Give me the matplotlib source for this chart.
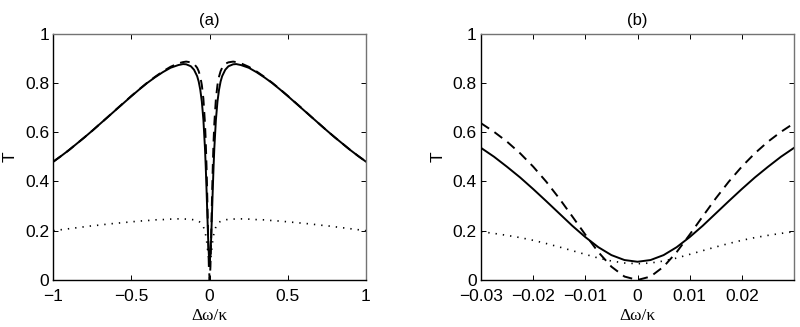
import matplotlib
matplotlib.use("Agg")
import matplotlib.pyplot as plt

# ---------------- data: panel (a) ----------------
xa = [-1.0, -0.95, -0.9, -0.85, -0.8, -0.75, -0.7, -0.65, -0.6, -0.55, -0.5, -0.45, -0.4, -0.35,
      -0.3, -0.25, -0.2, -0.17, -0.15, -0.12, -0.1, -0.08, -0.07, -0.06, -0.05, -0.04, -0.03,
      -0.025, -0.02, -0.015, -0.01, -0.005, 0.0,
      0.005, 0.01, 0.015, 0.02, 0.025, 0.03, 0.04, 0.05, 0.06, 0.07, 0.08, 0.1, 0.12, 0.15,
      0.17, 0.2, 0.25, 0.3, 0.35, 0.4, 0.45, 0.5, 0.55, 0.6, 0.65, 0.7, 0.75, 0.8, 0.85, 0.9,
      0.95, 1.0]

solid_a = [0.480, 0.503, 0.527, 0.553, 0.579, 0.606, 0.634, 0.662, 0.690, 0.718, 0.746, 0.773,
           0.799, 0.822, 0.843, 0.861, 0.872, 0.876, 0.875, 0.867, 0.853, 0.827, 0.805, 0.772,
           0.724, 0.650, 0.536, 0.459, 0.369, 0.270, 0.174, 0.101, 0.074,
           0.101, 0.174, 0.270, 0.369, 0.459, 0.536, 0.650, 0.724, 0.772, 0.805, 0.827, 0.853,
           0.867, 0.875, 0.876, 0.872, 0.861, 0.843, 0.822, 0.799, 0.773, 0.746, 0.718, 0.690,
           0.662, 0.634, 0.606, 0.579, 0.553, 0.527, 0.503, 0.480]

dashed_a = [0.480, 0.503, 0.527, 0.553, 0.579, 0.606, 0.634, 0.662, 0.691, 0.719, 0.747, 0.774,
            0.800, 0.824, 0.846, 0.865, 0.879, 0.884, 0.886, 0.883, 0.877, 0.861, 0.847, 0.825,
            0.791, 0.735, 0.636, 0.561, 0.460, 0.331, 0.184, 0.054, 0.000,
            0.054, 0.184, 0.331, 0.460, 0.561, 0.636, 0.735, 0.791, 0.825, 0.847, 0.861, 0.877,
            0.883, 0.886, 0.884, 0.879, 0.865, 0.846, 0.824, 0.800, 0.774, 0.747, 0.719, 0.691,
            0.662, 0.634, 0.606, 0.579, 0.553, 0.527, 0.503, 0.480]

dotted_a = [0.200, 0.204, 0.208, 0.212, 0.216, 0.220, 0.223, 0.227, 0.230, 0.233, 0.236, 0.239,
            0.241, 0.244, 0.245, 0.247, 0.248, 0.248, 0.247, 0.246, 0.244, 0.241, 0.238, 0.234,
            0.227, 0.216, 0.196, 0.181, 0.161, 0.134, 0.104, 0.077, 0.066,
            0.077, 0.104, 0.134, 0.161, 0.181, 0.196, 0.216, 0.227, 0.234, 0.238, 0.241, 0.244,
            0.246, 0.247, 0.248, 0.248, 0.247, 0.245, 0.244, 0.241, 0.239, 0.236, 0.233, 0.230,
            0.227, 0.223, 0.220, 0.216, 0.212, 0.208, 0.204, 0.200]

# ---------------- data: panel (b) ----------------
xb = [-0.03, -0.0275, -0.025, -0.0225, -0.02, -0.0175, -0.015, -0.0125, -0.01, -0.0075,
      -0.005, -0.0025, 0.0, 0.0025, 0.005, 0.0075, 0.01, 0.0125, 0.015, 0.0175, 0.02,
      0.0225, 0.025, 0.0275, 0.03]

solid_b = [0.536, 0.500, 0.459, 0.416, 0.369, 0.320, 0.270, 0.220, 0.174, 0.133, 0.101, 0.081,
           0.074, 0.081, 0.101, 0.133, 0.174, 0.220, 0.270, 0.320, 0.369, 0.416, 0.459, 0.500,
           0.536]

dashed_b = [0.636, 0.601, 0.561, 0.514, 0.460, 0.399, 0.331, 0.258, 0.184, 0.113, 0.054, 0.014,
            0.000, 0.014, 0.054, 0.113, 0.184, 0.258, 0.331, 0.399, 0.460, 0.514, 0.561, 0.601,
            0.636]

dotted_b = [0.196, 0.189, 0.181, 0.172, 0.161, 0.148, 0.134, 0.119, 0.104, 0.089, 0.077, 0.069,
            0.066, 0.069, 0.077, 0.089, 0.104, 0.119, 0.134, 0.148, 0.161, 0.172, 0.181, 0.189,
            0.196]

xticks_a = [-1, -0.5, 0, 0.5, 1]
xticklabels_a = ["\u22121", "\u22120.5", "0", "0.5", "1"]
xticks_b = [-0.03, -0.02, -0.01, 0, 0.01, 0.02]
xticklabels_b = ["\u22120.03", "\u22120.02", "\u22120.01", "0", "0.01", "0.02"]
yticks = [0, 0.2, 0.4, 0.6, 0.8, 1]
yticklabels = ["0", "0.2", "0.4", "0.6", "0.8", "1"]
titles = ["(a)", "(b)"]
xlabel = "\u0394\u03c9/\u03ba"
ylabel = "T"

plt.rcParams['font.family'] = ['Liberation Sans', 'DejaVu Sans']

fig = plt.figure(figsize=(8.0, 3.27), dpi=100)
W, H = 800.0, 327.0
ax_a = fig.add_axes([53.3 / W, 1 - 280 / H, (366 - 53.3) / W, (280 - 33.5) / H])
ax_b = fig.add_axes([481 / W, 1 - 280 / H, (794 - 481) / W, (280 - 33.5) / H])

panels = [
    (ax_a, xa, solid_a, dashed_a, dotted_a, (-1, 1), xticks_a, xticklabels_a),
    (ax_b, xb, solid_b, dashed_b, dotted_b, (-0.03, 0.03), xticks_b, xticklabels_b),
]

for i, (ax, x, s, d, p, xl, xt, xtl) in enumerate(panels):
    ax.plot(x, s, color='black', lw=1.4, solid_joinstyle='round')
    ax.plot(x, d, color='black', lw=1.4, dashes=(5.0, 3.3))
    ax.plot(x, p, color='black', lw=1.2, dashes=(0.8, 3.6))
    ax.set_xlim(*xl)
    ax.set_ylim(0, 1)
    ax.set_xticks(xt)
    ax.set_xticklabels(xtl)
    ax.set_yticks(yticks)
    ax.set_yticklabels(yticklabels)
    ax.tick_params(direction='in', length=3.5, width=0.7, top=True, right=True,
                   labelsize=12.5, colors='black')
    ax.tick_params(axis='x', pad=6.5)
    ax.tick_params(axis='y', pad=3)
    for side in ['left', 'bottom']:
        ax.spines[side].set_linewidth(1.0)
        ax.spines[side].set_color('black')
    for side in ['top', 'right']:
        ax.spines[side].set_linewidth(1.0)
        ax.spines[side].set_color('0.45')
    ax.set_title(titles[i], fontsize=12, pad=6)
    ax.set_xlabel(xlabel, fontsize=12.5, family=['Liberation Serif', 'DejaVu Serif'], labelpad=3)
    ax.set_ylabel(ylabel, fontsize=12.5, labelpad=5)

fig.savefig("out.png", dpi=100)
